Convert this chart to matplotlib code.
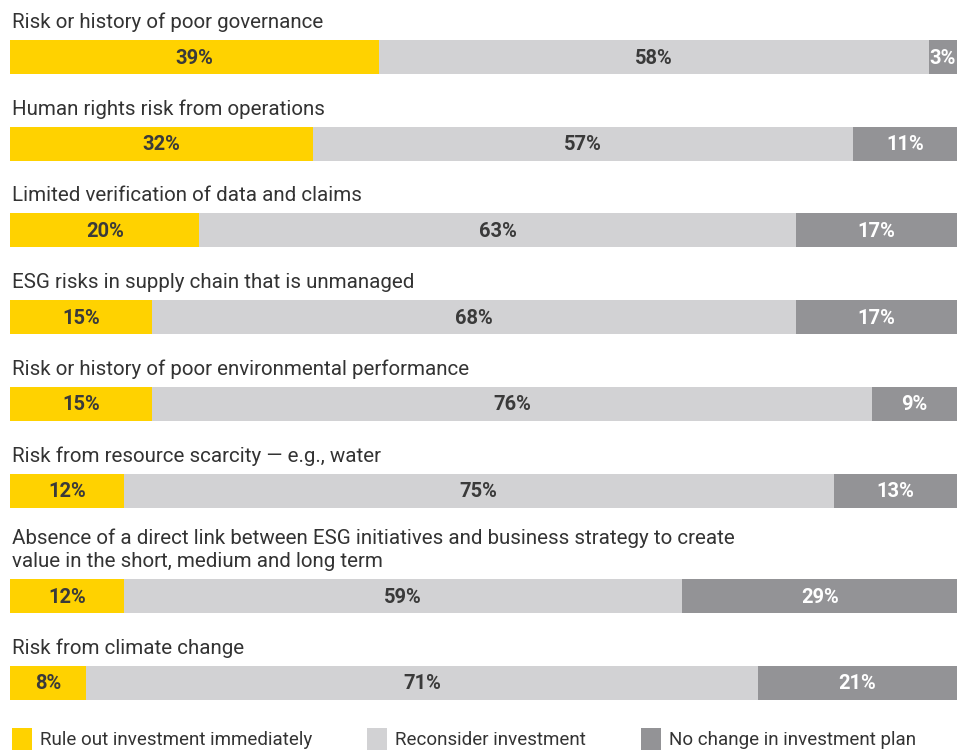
import matplotlib
matplotlib.use('Agg')
import matplotlib.pyplot as plt
from matplotlib.patches import Rectangle

plt.rcParams['font.family'] = ['Roboto', 'DejaVu Sans']

categories = [
    "Risk or history of poor governance",
    "Human rights risk from operations",
    "Limited verification of data and claims",
    "ESG risks in supply chain that is unmanaged",
    "Risk or history of poor environmental performance",
    "Risk from resource scarcity \u2014 e.g., water",
    "Absence of a direct link between ESG initiatives and business strategy to create\n"
    "value in the short, medium and long term",
    "Risk from climate change",
]
rule_out = [39, 32, 20, 15, 15, 12, 12, 8]
reconsider = [58, 57, 63, 68, 76, 75, 59, 71]
no_change = [3, 11, 17, 17, 9, 13, 29, 21]

series_names = ["Rule out investment immediately", "Reconsider investment",
                "No change in investment plan"]
colors = ['#FFD200', '#D2D2D4', '#939396']
text_colors = ['#3A3A3A', '#3A3A3A', '#FFFFFF']

W, H = 968, 753
fig = plt.figure(figsize=(W / 100, H / 100), dpi=100)
# axes spans figure height in pixel units, x in percent
ax = fig.add_axes([10 / W, 0, 947 / W, 1])
ax.set_xlim(0, 100)
ax.set_ylim(H, 0)
ax.axis('off')

bar_h = 34
step = 86.7
line_extra = 19

# bar top positions: account for extra label lines
tops = []
extra = 0
for i, cat in enumerate(categories):
    extra += cat.count("\n") * line_extra
    tops.append(40 + step * i + extra)
centers = [t + bar_h / 2 for t in tops]

lefts = [0] * len(categories)
for vals, c, tc in zip([rule_out, reconsider, no_change], colors, text_colors):
    ax.barh(centers, vals, left=lefts, height=bar_h, color=c, linewidth=0)
    for y, l, v in zip(centers, lefts, vals):
        ax.text(l + v / 2, y + 1, f"{v}%", ha='center', va='center',
                fontsize=14.5, fontweight='bold', color=tc)
    lefts = [l + v for l, v in zip(lefts, vals)]

for t, cat in zip(tops, categories):
    ax.text(0.2, t - 8, cat, ha='left', va='bottom', fontsize=14.8,
            color='#333333', linespacing=1.25)

# legend
leg_x = [0.2, 37.7, 66.6]
for lx, name, c in zip(leg_x, series_names, colors):
    ax.add_patch(Rectangle((lx, 728), 2.1, 22, color=c, linewidth=0, clip_on=False))
    ax.text(lx + 3.0, 740, name, ha='left', va='center', fontsize=13.5, color='#333333')

fig.savefig("out.png", dpi=100)
